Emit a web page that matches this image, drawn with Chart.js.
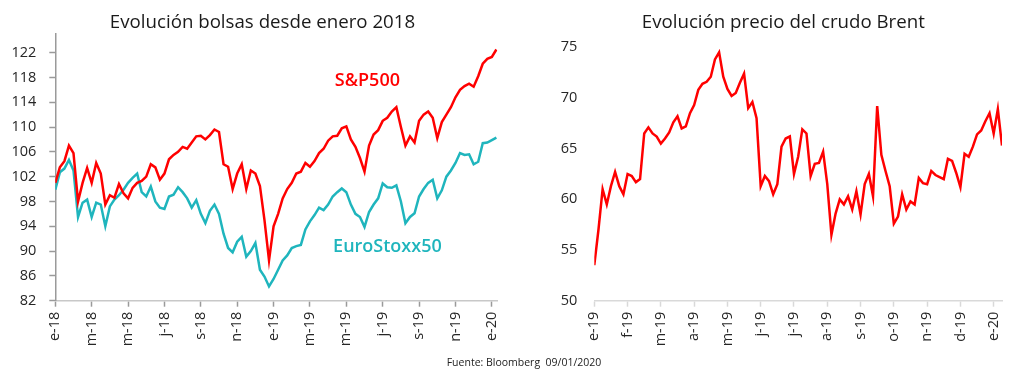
<!DOCTYPE html>
<html lang="es">
<head>
<meta charset="utf-8">
<script src="https://cdn.jsdelivr.net/npm/chart.js@4.4.1/dist/chart.umd.min.js"></script>
<style>
  html, body { margin: 0; padding: 0; background: #fff; }
  #wrap { position: relative; width: 1024px; height: 378px; overflow: hidden; }
  #leftChart { position: absolute; left: 0; top: 0; }
  #rightChart { position: absolute; left: 520px; top: 0; }
  .title {
    position: absolute; top: 10px; transform: translateX(-50%); white-space: nowrap;
    font-family: 'Open Sans', sans-serif; font-size: 18.7px; line-height: 22px; color: #1a1a1a;
  }
  #source {
    position: absolute; left: 524px; top: 355px; transform: translateX(-50%);
    font-family: 'Open Sans', sans-serif; font-size: 10.5px; color: #222; white-space: nowrap;
  }
</style>
</head>
<body>
<div id="wrap">
  <canvas id="leftChart" width="520" height="378"></canvas>
  <canvas id="rightChart" width="504" height="378"></canvas>
  <div class="title" style="left: 262.5px">Evolución bolsas desde enero 2018</div>
  <div class="title" style="left: 783.3px">Evolución precio del crudo Brent</div>
  <div id="source">Fuente: Bloomberg&nbsp; 09/01/2020</div>
</div>
<script>
// tick labels
const leftXLabels = ['e-18', 'm-18', 'm-18', 'j-18', 's-18', 'n-18', 'e-19', 'm-19', 'm-19', 'j-19', 's-19', 'n-19', 'e-20'];
const rightXLabels = ['e-19', 'f-19', 'm-19', 'a-19', 'm-19', 'j-19', 'j-19', 'a-19', 's-19', 'o-19', 'n-19', 'd-19', 'e-20'];
const leftYTicks = [82, 86, 90, 94, 98, 102, 106, 110, 114, 118, 122];
const rightYTicks = [50, 55, 60, 65, 70, 75];

// weekly values since 2 Jan 2018 (base 100)
const sp500 = [
  101.0, 103.5, 104.5, 107.0, 105.8, 98.0, 101.0, 103.4, 101.0, 104.2,
  102.5, 97.5, 99.0, 98.6, 100.8, 99.3, 98.5, 100.2, 101.0, 101.3,
  102.0, 104.0, 103.5, 101.5, 102.5, 104.8, 105.5, 106.0, 106.8, 106.5,
  107.5, 108.5, 108.6, 108.0, 108.7, 109.6, 109.2, 104.0, 103.6, 100.0,
  102.5, 104.0, 100.0, 103.0, 102.5, 100.5, 95.0, 88.5, 94.0, 96.0,
  98.5, 100.0, 101.0, 102.5, 102.8, 104.2, 103.6, 104.5, 105.8, 106.5,
  107.8, 108.5, 108.6, 109.8, 110.1, 108.0, 106.8, 105.0, 102.8, 107.0,
  108.8, 109.5, 111.0, 111.5, 112.5, 113.2, 110.0, 107.0, 108.5, 107.5,
  111.0, 112.0, 112.5, 111.5, 108.2, 110.8, 112.0, 113.2, 114.8, 116.0,
  116.6, 117.0, 116.5, 118.2, 120.2, 121.0, 121.3, 122.5
];
const euroStoxx50 = [
  99.9, 102.7, 103.3, 104.7, 103.0, 95.5, 97.8, 98.3, 95.5, 97.8,
  97.5, 94.0, 97.2, 98.3, 99.0, 99.9, 101.0, 101.8, 102.5, 99.5,
  98.8, 100.4, 98.0, 97.0, 96.8, 98.8, 99.1, 100.3, 99.5, 98.5,
  97.0, 98.2, 96.0, 94.5, 96.5, 97.5, 96.0, 92.8, 90.5, 89.8,
  91.5, 92.3, 89.1, 90.0, 91.3, 87.0, 85.9, 84.3, 85.5, 87.0,
  88.5, 89.3, 90.5, 90.8, 91.0, 93.5, 94.8, 95.8, 97.0, 96.6,
  97.5, 98.8, 99.5, 100.1, 99.5, 97.5, 96.0, 95.5, 93.9, 96.3,
  97.5, 98.5, 100.9, 100.3, 100.2, 100.6, 98.0, 94.5, 95.5, 96.1,
  98.8, 100.0, 101.0, 101.5, 98.5, 99.8, 102.0, 103.0, 104.2, 105.8,
  105.5, 105.6, 104.0, 104.4, 107.4, 107.5, 107.9, 108.3
];

// Brent, every ~4 days since 2 Jan 2019 (USD/bbl)
const brent = [
  53.5, 57.0, 61.0, 59.5, 61.3, 62.7, 61.3, 60.5, 62.5, 62.3,
  61.7, 62.0, 66.5, 67.1, 66.5, 66.2, 65.5, 66.0, 66.6, 67.6,
  68.2, 67.0, 67.2, 68.5, 69.3, 70.8, 71.4, 71.6, 72.1, 73.8,
  74.5, 72.1, 70.9, 70.2, 70.5, 71.5, 72.4, 69.0, 69.6, 68.0,
  61.3, 62.3, 61.8, 60.5, 61.5, 65.2, 66.0, 66.2, 62.5, 64.2,
  66.9, 66.5, 62.3, 63.5, 63.6, 64.7, 61.5, 56.5, 58.6, 60.0,
  59.5, 60.3, 59.0, 60.8, 58.5, 61.5, 62.5, 60.3, 69.2, 64.4,
  62.8, 61.3, 57.6, 58.3, 60.5, 59.0, 59.8, 59.5, 62.1, 61.6,
  61.5, 62.8, 62.4, 62.2, 62.0, 64.0, 63.8, 62.6, 61.2, 64.5,
  64.2, 65.2, 66.4, 66.8, 67.7, 68.5, 66.5, 68.9, 65.3
];

const RED = '#ff0000';
const TEAL = '#1fb5bd';
const FONT = "'Open Sans', sans-serif";
const TEXT = '#262626';

// x in months from start
const leftMonths = sp500.map((_, i) => i / 4);
const rightMonths = brent.map((_, i) => i / 8);

// draws the series names next to the lines
const seriesLabels = {
  id: 'seriesLabels',
  afterDatasetsDraw(chart, args, opts) {
    const ctx = chart.ctx;
    ctx.save();
    ctx.textAlign = 'center';
    ctx.textBaseline = 'middle';
    ctx.font = '600 18px ' + FONT;
    (opts.items || []).forEach(item => {
      ctx.fillStyle = item.color;
      ctx.fillText(item.text, chart.scales.x.getPixelForValue(item.x), chart.scales.y.getPixelForValue(item.y));
    });
    ctx.restore();
  }
};

new Chart(document.getElementById('leftChart'), {
  type: 'line',
  data: {
    labels: leftMonths,
    datasets: [
      { label: 'S&P500', data: sp500, borderColor: RED, borderWidth: 2.5, pointRadius: 0, tension: 0 },
      { label: 'EuroStoxx50', data: euroStoxx50, borderColor: TEAL, borderWidth: 2.5, pointRadius: 0, tension: 0 }
    ]
  },
  plugins: [seriesLabels],
  options: {
    responsive: false,
    animation: false,
    layout: { padding: { left: 0, right: 22.7, top: 34, bottom: 0 } },
    plugins: {
      legend: { display: false },
      tooltip: { enabled: false },
      seriesLabels: {
        items: [
          { text: 'S&P500', x: 17.16, y: 117.5, color: RED },
          { text: 'EuroStoxx50', x: 18.26, y: 90.66, color: TEAL }
        ]
      }
    },
    scales: {
      x: {
        type: 'linear',
        min: 0,
        max: 24.3,
        afterBuildTicks: s => { s.ticks = leftXLabels.map((_, k) => ({ value: k * 2 })); },
        afterFit: s => { s.height = 77.3; },
        ticks: {
          autoSkip: false, minRotation: 90, maxRotation: 90, padding: 5,
          color: TEXT, font: { family: FONT, size: 14.5 },
          callback: (v, i) => leftXLabels[i]
        },
        grid: { drawOnChartArea: false, drawTicks: true, tickLength: 6, tickColor: '#9a9a9a', tickWidth: 1.5 },
        border: { display: true, color: '#c8c8c8', width: 1.5 }
      },
      y: {
        min: 82,
        max: 125,
        afterBuildTicks: s => { s.ticks = leftYTicks.map(v => ({ value: v })); },
        afterFit: s => { s.width = 55.3; },
        ticks: { padding: 13, color: TEXT, font: { family: FONT, size: 14.5 } },
        grid: { drawOnChartArea: false, drawTicks: true, tickLength: 6, tickColor: '#9a9a9a', tickWidth: 1.5 },
        border: { display: true, color: '#9a9a9a', width: 1.5 }
      }
    }
  }
});

new Chart(document.getElementById('rightChart'), {
  type: 'line',
  data: {
    labels: rightMonths,
    datasets: [
      { label: 'Brent', data: brent, borderColor: RED, borderWidth: 2.5, pointRadius: 0, tension: 0 }
    ]
  },
  options: {
    responsive: false,
    animation: false,
    layout: { padding: { left: 0, right: 22, top: 47.3, bottom: 0 } },
    plugins: {
      legend: { display: false },
      tooltip: { enabled: false }
    },
    scales: {
      x: {
        type: 'linear',
        min: 0,
        max: 12.25,
        afterBuildTicks: s => { s.ticks = rightXLabels.map((_, k) => ({ value: k })); },
        afterFit: s => { s.height = 77.3; },
        ticks: {
          autoSkip: false, minRotation: 90, maxRotation: 90, padding: 5,
          color: TEXT, font: { family: FONT, size: 14.5 },
          callback: (v, i) => rightXLabels[i]
        },
        grid: { drawOnChartArea: false, drawTicks: true, tickLength: 6, tickColor: '#d9d9d9', tickWidth: 1.5 },
        border: { display: true, color: '#d9d9d9', width: 1.5 }
      },
      y: {
        min: 50,
        max: 75,
        afterBuildTicks: s => { s.ticks = rightYTicks.map(v => ({ value: v })); },
        afterFit: s => { s.width = 74.3; },
        ticks: { padding: 17, color: TEXT, font: { family: FONT, size: 14.5 } },
        grid: { display: false, drawTicks: false },
        border: { display: false }
      }
    }
  }
});
</script>
</body>
</html>
